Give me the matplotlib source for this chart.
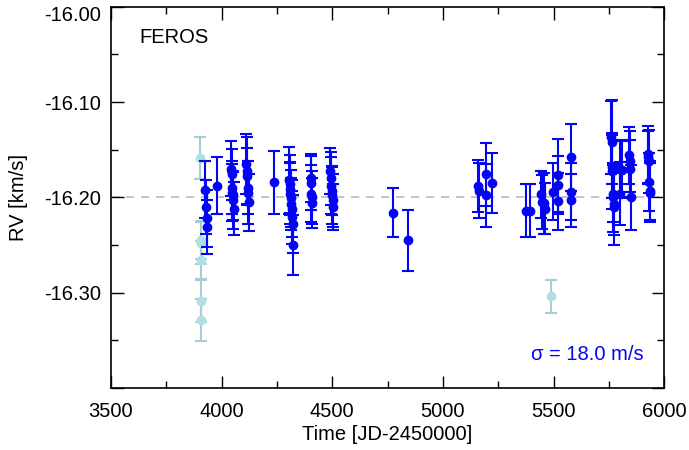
import matplotlib

matplotlib.use("Agg")
import matplotlib.pyplot as plt
from matplotlib.ticker import MultipleLocator
import numpy as np

plt.rcParams["font.family"] = ["Liberation Sans", "DejaVu Sans"]

# FEROS radial velocities (kept points)
time_used = [
    3927, 3930, 3932, 3934, 3981,
    4042, 4045, 4047, 4049, 4051, 4053, 4055,
    4112, 4114, 4116, 4118, 4120, 4122,
    4236,
    4305, 4307, 4309, 4311, 4313, 4315, 4317, 4319, 4321, 4323,
    4402, 4404, 4406, 4408, 4410,
    4492, 4494, 4496, 4498, 4500, 4502, 4504,
    4774, 4842,
    5160, 5162, 5195, 5197, 5220,
    5375, 5393,
    5444, 5446, 5458, 5460,
    5496, 5518, 5519, 5520,
    5579, 5580, 5581,
    5760, 5762, 5764, 5766, 5768, 5770, 5772, 5774,
    5800, 5802, 5811,
    5843, 5845, 5847, 5849,
    5927, 5929, 5931, 5933, 5935, 5937,
]
rv_used = [
    -16.192, -16.210, -16.222, -16.231, -16.188,
    -16.170, -16.176, -16.190, -16.195, -16.198, -16.203, -16.212,
    -16.165, -16.172, -16.178, -16.190, -16.195, -16.205,
    -16.184,
    -16.182, -16.186, -16.191, -16.196, -16.201, -16.207, -16.212, -16.221, -16.228, -16.250,
    -16.180, -16.185, -16.196, -16.200, -16.206,
    -16.172, -16.180, -16.188, -16.193, -16.198, -16.203, -16.210,
    -16.216, -16.245,
    -16.188, -16.193, -16.176, -16.198, -16.185,
    -16.214, -16.214,
    -16.197, -16.205, -16.206, -16.212,
    -16.194, -16.177, -16.187, -16.204,
    -16.158, -16.194, -16.203,
    -16.137, -16.142, -16.168, -16.172, -16.196, -16.200, -16.207, -16.210,
    -16.170, -16.196, -16.171,
    -16.156, -16.162, -16.170, -16.200,
    -16.155, -16.158, -16.162, -16.184, -16.193, -16.195,
]
err_used = [
    0.030, 0.028, 0.030, 0.028, 0.030,
    0.029, 0.027, 0.028, 0.030, 0.026, 0.030, 0.028,
    0.031, 0.035, 0.030, 0.028, 0.033, 0.030,
    0.033,
    0.035, 0.030, 0.028, 0.032, 0.030, 0.027, 0.030, 0.028, 0.030, 0.031,
    0.025, 0.028, 0.030, 0.028, 0.026,
    0.024, 0.028, 0.030, 0.026, 0.030, 0.028, 0.024,
    0.026, 0.032,
    0.027, 0.029, 0.033, 0.033, 0.031,
    0.028, 0.028,
    0.025, 0.028, 0.032, 0.027,
    0.030, 0.038, 0.030, 0.030,
    0.035, 0.030, 0.028,
    0.038, 0.044, 0.033, 0.040, 0.030, 0.036, 0.033, 0.040,
    0.030, 0.033, 0.030,
    0.030, 0.032, 0.030, 0.034,
    0.030, 0.028, 0.033, 0.030, 0.031, 0.031,
]

# rejected points (light colour)
time_rej = [3904, 3905, 3906, 3906, 3907, 3907, 5490]
rv_rej = [-16.159, -16.245, -16.248, -16.266, -16.309, -16.329, -16.304]
err_rej = [0.022, 0.020, 0.022, 0.020, 0.022, 0.022, 0.017]

rv_mean = -16.20
sigma_ms = 18.0

FS = 14.5

fig = plt.figure(figsize=(6.89, 4.5), dpi=100)
ax = fig.add_axes([0.161, 0.138, 0.803, 0.847])

ax.axhline(rv_mean, color="#bbbbbb", linestyle=(0, (5, 4)), linewidth=1.2, zorder=1)

ax.errorbar(time_rej, rv_rej, yerr=err_rej, fmt="o", color="#b0e0e6",
            ecolor="#a8cdd2", markersize=6, capsize=4, elinewidth=1.5,
            capthick=1.5, zorder=2)
ax.errorbar(time_used, rv_used, yerr=err_used, fmt="o", color="#0505f5",
            ecolor="#0505f5", markersize=6, capsize=4, elinewidth=1.5,
            capthick=1.5, zorder=3)

ax.set_xlim(3500, 6000)
ax.set_ylim(-16.40, -16.00)
ax.xaxis.set_major_locator(MultipleLocator(500))
ax.xaxis.set_minor_locator(MultipleLocator(250))
ax.yaxis.set_major_locator(MultipleLocator(0.1))
ax.yaxis.set_minor_locator(MultipleLocator(0.05))
# bottom label is not drawn, top one is placed by hand (sits a bit lower)
ax.yaxis.set_major_formatter(
    plt.FuncFormatter(lambda v, p: "" if (v < -16.35 or v > -16.05) else f"{v:.2f}"))
ax.tick_params(which="both", direction="in", top=True, right=True,
               labelsize=FS)
ax.tick_params(axis="x", pad=10)
ax.tick_params(axis="y", pad=7)
ax.tick_params(which="major", length=9, width=1)
ax.tick_params(which="minor", length=5, width=1)
ax.annotate("-16.00", xy=(0, -16.00), xycoords=("axes fraction", "data"),
            xytext=(-7, -6), textcoords="offset points", fontsize=FS,
            ha="right", va="center")

ax.set_xlabel("Time [JD-2450000]", fontsize=FS, labelpad=3)
ax.set_ylabel("RV [km/s]", fontsize=FS, labelpad=12)

ax.text(0.052, 0.945, "FEROS", transform=ax.transAxes, fontsize=FS,
        ha="left", va="top")
ax.text(0.963, 0.087, f"σ = {sigma_ms:.1f} m/s", transform=ax.transAxes,
        fontsize=FS, color="#0505f5", ha="right", va="center")

for sp in ax.spines.values():
    sp.set_linewidth(1.2)

fig.savefig("out.png", dpi=100)
